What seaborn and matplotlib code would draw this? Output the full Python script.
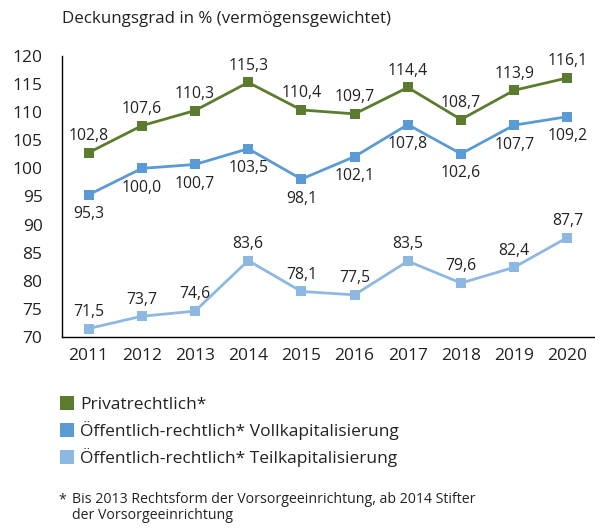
import matplotlib
matplotlib.use("Agg")
import matplotlib.pyplot as plt
import seaborn as sns
import pandas as pd
from matplotlib.lines import Line2D

years = [2011, 2012, 2013, 2014, 2015, 2016, 2017, 2018, 2019, 2020]
privat = [102.8, 107.6, 110.3, 115.3, 110.4, 109.7, 114.4, 108.7, 113.9, 116.1]
voll = [95.3, 100.0, 100.7, 103.5, 98.1, 102.1, 107.8, 102.6, 107.7, 109.2]
teil = [71.5, 73.7, 74.6, 83.6, 78.1, 77.5, 83.5, 79.6, 82.4, 87.7]
series_names = ["Privatrechtlich*",
                "Öffentlich-rechtlich* Vollkapitalisierung",
                "Öffentlich-rechtlich* Teilkapitalisierung"]
colors = ["#5B7B2F", "#5B9BD5", "#8DB8E2"]
title = "Deckungsgrad in % (vermögensgewichtet)"
footnote = "Bis 2013 Rechtsform der Vorsorgeeinrichtung, ab 2014 Stifter\nder Vorsorgeeinrichtung"

sns.set_theme(style="white")
plt.rcParams['font.family'] = ['Open Sans', 'DejaVu Sans']
txt = "#222222"

df = pd.DataFrame({
    "Jahr": years * 3,
    "Wert": privat + voll + teil,
    "Serie": [series_names[0]] * 10 + [series_names[1]] * 10 + [series_names[2]] * 10,
})

fig = plt.figure(figsize=(5.95, 5.3), dpi=100)
ax = fig.add_axes([62/595, 1 - 337/530, (594 - 62)/595, (337 - 56)/530])

sns.lineplot(data=df, x="Jahr", y="Wert", hue="Serie", palette=colors,
             marker="s", markersize=7, markeredgewidth=0, linewidth=2,
             legend=False, ax=ax)

ax.set_xlim(2010.5, 2020.5)
ax.set_ylim(70, 120)
ax.set_yticks(range(70, 121, 5))
ax.set_xticks(years)
ax.set_xticks([y + 0.5 for y in years], minor=True)
ax.tick_params(axis="x", which="major", length=0, labelsize=12.5, colors=txt, pad=8)
ax.tick_params(axis="x", which="minor", length=6, direction="in", width=1, color="black")
ax.tick_params(axis="y", length=12, width=1, color="black", labelsize=12.5, labelcolor=txt, pad=2)
ax.set_xlabel("")
ax.set_ylabel("")
for s in ["top", "right"]:
    ax.spines[s].set_visible(False)
for s in ["left", "bottom"]:
    ax.spines[s].set_color("black")
    ax.spines[s].set_linewidth(1)

def fmt(v):
    return f"{v:.1f}".replace(".", ",")

for vals, dy in [(privat, 12), (voll, -14), (teil, 12)]:
    for x, v in zip(years, vals):
        ax.annotate(fmt(v), (x, v), xytext=(0, dy), textcoords="offset points",
                    ha="center", va="center", fontsize=11.3, color=txt)

fig.text(62/595, 1 - 19/530, title, ha="left", va="center", fontsize=12.2, color=txt)

handles = [Line2D([], [], marker="s", linestyle="none", markersize=10.5,
                  markerfacecolor=c, markeredgewidth=0) for c in colors]
fig.legend(handles, series_names, loc="upper left",
           bbox_to_anchor=(53/595, 1 - 390/530), frameon=False,
           fontsize=12.5, handlelength=0.8, handletextpad=0.35,
           labelspacing=0.45, borderaxespad=0, labelcolor=txt)

fig.text(58/595, 1 - 492/530, "*", ha="left", va="top", fontsize=10.2, color=txt)
fig.text(72/595, 1 - 492/530, footnote, ha="left", va="top", fontsize=10.2,
         color=txt, linespacing=1.05)

fig.savefig("out.png", dpi=100)
